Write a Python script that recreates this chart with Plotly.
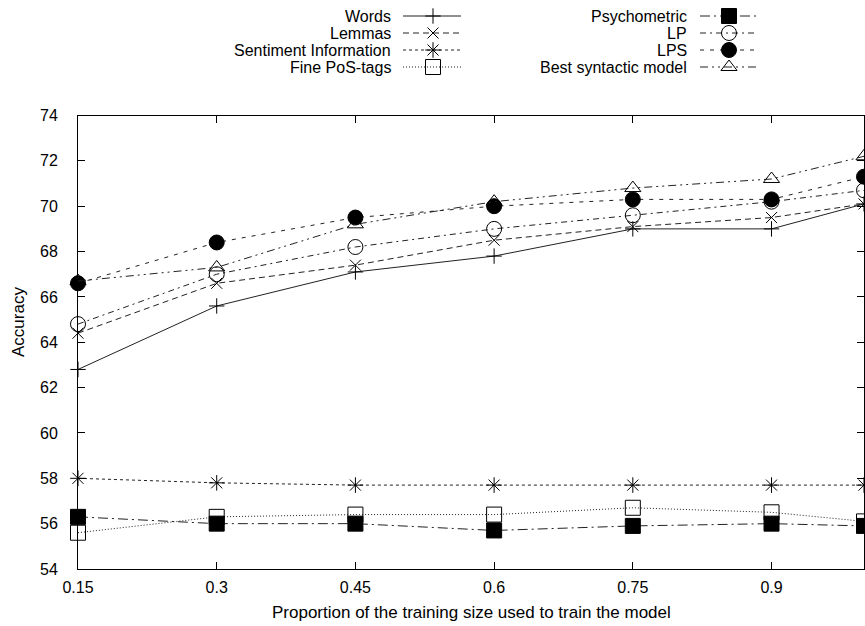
import plotly.graph_objects as go

# ---- data ----
proportions = [0.15, 0.3, 0.45, 0.6, 0.75, 0.9, 1.0]
x_tick_vals = [0.15, 0.3, 0.45, 0.6, 0.75, 0.9, 1.0]
x_tick_text = ["0.15", "0.3", "0.45", "0.6", "0.75", "0.9", "1"]
y_tick_vals = [54, 56, 58, 60, 62, 64, 66, 68, 70, 72, 74]

words = [62.8, 65.6, 67.1, 67.8, 69.0, 69.0, 70.1]
lemmas = [64.4, 66.6, 67.4, 68.5, 69.1, 69.5, 70.1]
sentiment = [58.0, 57.8, 57.7, 57.7, 57.7, 57.7, 57.7]
fine_pos = [55.6, 56.3, 56.4, 56.4, 56.7, 56.5, 56.1]
psychometric = [56.3, 56.0, 56.0, 55.7, 55.9, 56.0, 55.9]
lp = [64.8, 67.0, 68.2, 69.0, 69.6, 70.2, 70.7]
lps = [66.6, 68.4, 69.5, 70.0, 70.3, 70.3, 71.3]
best_syntactic = [66.7, 67.3, 69.2, 70.2, 70.8, 71.2, 72.2]

series_names = ["Words", "Lemmas", "Sentiment Information", "Fine PoS-tags",
                "Psychometric", "LP", "LPS", "Best syntactic model"]
series_values = [words, lemmas, sentiment, fine_pos, psychometric, lp, lps, best_syntactic]

# ---- styles ----
styles = [
    dict(dash="solid", symbol="cross-thin-open", size=11),
    dict(dash="6px,4px", symbol="x-thin-open", size=11),
    dict(dash="3px,3px", symbol="asterisk-open", size=13),
    dict(dash="1px,2px", symbol="square-open", size=15),
    dict(dash="10px,4px,2px,4px", symbol="square", size=15),
    dict(dash="6px,4px,2px,4px", symbol="circle-open", size=15),
    dict(dash="4px,6px", symbol="circle", size=15),
    dict(dash="8px,4px,2px,4px,2px,4px", symbol="triangle-up-open", size=14),
]

W, H = 865, 626
L, R, B = 78, 1, 57
plot_top_px = 115.5
paper_h = H - B  # margin top = 0
main_top = (paper_h - plot_top_px) / paper_h

FONT = "Liberation Sans, Arial, Helvetica, sans-serif"
FS = 17
FS_LEGEND = 16
FS_TICK = 16
LINE_COLOR = "#222222"

fig = go.Figure()

for name, vals, st in zip(series_names, series_values, styles):
    fig.add_trace(go.Scatter(
        x=proportions, y=vals, name=name, mode="lines+markers",
        line=dict(color=LINE_COLOR, width=1, dash=st["dash"]),
        marker=dict(symbol=st["symbol"], size=st["size"], color="black",
                    line=dict(color="black", width=1)),
        hoverinfo="skip", showlegend=False, xaxis="x", yaxis="y",
        cliponaxis=False,
    ))

# ---- custom legend (text left, sample right, like gnuplot) ----
legend_cols = [dict(text_right=393, x0=403, xm=433, x1=461),
               dict(text_right=689, x0=700, xm=729, x1=758)]
legend_rows = [16, 33, 50, 67]
annotations = []
for i, (name, st) in enumerate(zip(series_names, styles)):
    col = legend_cols[i // 4]
    ry = legend_rows[i % 4]
    fig.add_trace(go.Scatter(
        x=[col["x0"], col["x1"]], y=[ry, ry], mode="lines",
        line=dict(color=LINE_COLOR, width=1, dash=st["dash"]),
        hoverinfo="skip", showlegend=False, xaxis="x2", yaxis="y2",
    ))
    fig.add_trace(go.Scatter(
        x=[col["xm"]], y=[ry], mode="markers",
        marker=dict(symbol=st["symbol"], size=st["size"], color="black",
                    line=dict(color="black", width=1)),
        hoverinfo="skip", showlegend=False, xaxis="x2", yaxis="y2",
    ))
    annotations.append(dict(
        x=col["text_right"], y=ry, xref="x2", yref="y2", text=name,
        showarrow=False, xanchor="right", yanchor="middle",
        font=dict(size=FS_LEGEND, color="black", family=FONT),
    ))

# axis titles as annotations
annotations.append(dict(
    x=0.5, y=(paper_h - 612) / paper_h, xref="paper", yref="paper",
    text="Proportion of the training size used to train the model",
    showarrow=False, xanchor="center", yanchor="middle",
    font=dict(size=FS, color="black", family=FONT),
))
annotations.append(dict(
    x=(18 - L) / (W - L - R), y=(paper_h - 322) / paper_h, xref="paper", yref="paper",
    text="Accuracy", textangle=-90,
    showarrow=False, xanchor="center", yanchor="middle",
    font=dict(size=FS, color="black", family=FONT),
))

axis_common = dict(
    showgrid=False, zeroline=False, showline=True, linecolor="black", linewidth=1,
    mirror="ticks", ticks="inside", ticklen=7, tickcolor="black", tickwidth=1,
    tickfont=dict(size=FS_TICK, color="black", family=FONT), automargin=False,
)

fig.update_layout(
    width=W, height=H, autosize=False,
    margin=dict(l=L, r=R, t=0, b=B, pad=0, autoexpand=False),
    paper_bgcolor="white", plot_bgcolor="white",
    showlegend=False, hovermode=False,
    font=dict(family=FONT, size=FS, color="black"),
    xaxis=dict(range=[0.15, 1.0], tickvals=x_tick_vals, ticktext=x_tick_text,
               domain=[0, 1], anchor="y", ticklabelstandoff=4, **axis_common),
    yaxis=dict(range=[54, 74], tickvals=y_tick_vals, domain=[0, main_top],
               anchor="x", ticklabelstandoff=16, **axis_common),
    xaxis2=dict(range=[L, W - R], domain=[0, 1], anchor="y2", visible=False),
    yaxis2=dict(range=[plot_top_px - 1.5, 0], domain=[(paper_h - plot_top_px + 1.5) / paper_h, 1],
                anchor="x2", visible=False),
    annotations=annotations,
)

fig.write_html(
    "out.html",
    config={"displayModeBar": False, "responsive": False},
    post_script="document.body.style.margin='0';document.body.style.overflow='hidden';",
)
